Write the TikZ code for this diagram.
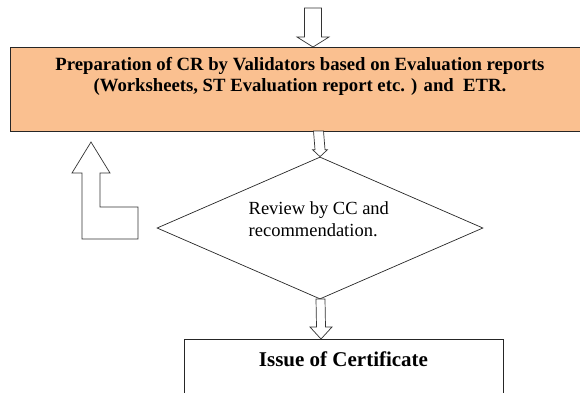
\documentclass[tikz,border=0pt]{standalone}
\usepackage{fontspec}
\setmainfont{Liberation Serif}
\usetikzlibrary{shapes.geometric,calc}
\definecolor{boxorange}{RGB}{250,192,144}
% hollow block arrow: top, tip, half shaft, half head, head length
\newcommand{\blockarrow}[5]{%
	\draw[flow] ($(#1)+(-#3pt,0)$) -- ($(#2)+(-#3pt,#5pt)$) -- ($(#2)+(-#4pt,#5pt)$)
		-- (#2) -- ($(#2)+(#4pt,#5pt)$) -- ($(#2)+(#3pt,#5pt)$) -- ($(#1)+(#3pt,0)$) -- cycle;}
\begin{document}
\begin{tikzpicture}[x=1pt,y=-1pt,line width=0.7pt,
	flow/.style={draw=black!80,fill=white},
	stepbox/.style={draw=black!85,inner sep=0,anchor=north west}]
		\useasboundingbox (0,0) rectangle (580,392);
		\clip (0,0) rectangle (580,392);
		% boxes
		\node (prep) [stepbox,fill=boxorange,minimum width=585pt,minimum height=84pt] at (10,47) {};
		\node (preptext) [align=center,font=\bfseries\fontsize{18.7}{21}\selectfont] at (300,76)
			{Preparation of CR by Validators based on Evaluation reports\\(Worksheets, ST Evaluation report etc. ) and~ ETR.};
		\node (review) [diamond,draw=black!85,minimum width=326pt,minimum height=142pt,inner sep=0] at (320,228) {};
		\node (reviewtext) [align=left,anchor=west,font=\fontsize{18.5}{22}\selectfont] at (245,219)
			{Review by CC and\\recommendation.};
		\node (issue) [stepbox,minimum width=319pt,minimum height=80pt] at (184,339) {};
		\node (issuetext) [font=\bfseries\fontsize{21}{24}\selectfont] at (343.5,359) {Issue of Certificate};
		% arrows
		\coordinate (in) at (313,8);
		\coordinate (prepin) at (313,47);
		\coordinate (prepout) at (318.5,131);
		\coordinate (reviewout) at (320.5,299);
		\coordinate (issuein) at (321,339);
		\blockarrow{in}{prepin}{8.5}{16}{10}
		\blockarrow{prepout}{review.north}{5}{7.5}{7}
		\blockarrow{reviewout}{issuein}{4.5}{11}{12}
		% return arrow
		\draw[flow] (91,142) -- (110,173) -- (100,173) -- (100,207) -- (138,207)
			-- (138,239) -- (82,239) -- (82,173) -- (72,173) -- cycle;
	\end{tikzpicture}
\end{document}
